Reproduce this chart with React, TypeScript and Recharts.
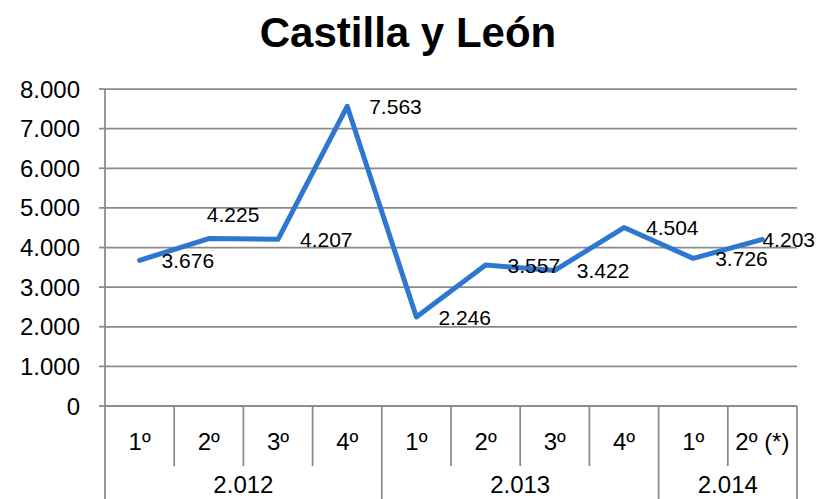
import React from 'react';
import { LineChart, Line, XAxis, YAxis, CartesianGrid, LabelList } from 'recharts';

const quarters = ['1º', '2º', '3º', '4º', '1º', '2º', '3º', '4º', '1º', '2º (*)'];
const years = ['2.012', '2.012', '2.012', '2.012', '2.013', '2.013', '2.013', '2.013', '2.014', '2.014'];
const values = [3676, 4225, 4207, 7563, 2246, 3557, 3422, 4504, 3726, 4203];
const yTicks = [0, 1000, 2000, 3000, 4000, 5000, 6000, 7000, 8000];
const title = 'Castilla y León';

const W = 816;
const H = 499;
const M = { top: 89, right: 19, bottom: 0, left: 0 };
const Y_W = 105;
const X_H = 93;
const PLOT_W = W - M.left - M.right - Y_W;
const BAND = PLOT_W / quarters.length;
const FONT = '"Liberation Sans", Arial, sans-serif';
const GRID = '#8a8a8a';
const LINE = '#2E77D0';

const data = quarters.map((q, i) => ({ quarter: q, year: years[i], value: values[i] }));

const fmt = (n: number) =>
  n >= 1000 ? `${Math.floor(n / 1000)}.${String(n % 1000).padStart(3, '0')}` : String(n);

const XTick = (props: any) => {
  const { x, y, index } = props;
  const half = BAND / 2;
  const left = x - half;
  const isYearStart = index === 0 || years[index] !== years[index - 1];
  const isLast = index === quarters.length - 1;
  let yearLabel = null;
  if (isYearStart) {
    let count = 0;
    for (let j = index; j < years.length && years[j] === years[index]; j++) count++;
    const cx = x + ((count - 1) / 2) * BAND;
    yearLabel = (
      <text x={cx} y={y + 78} textAnchor="middle" dominantBaseline="central" fontSize={24} fontFamily={FONT} fill="#000">
        {years[index]}
      </text>
    );
  }
  return (
    <g>
      <line x1={left} y1={y} x2={left} y2={isYearStart ? H : y + 60} stroke={GRID} strokeWidth={1.75} />
      {isLast && <line x1={x + half} y1={y} x2={x + half} y2={H} stroke={GRID} strokeWidth={1.75} />}
      <text x={x} y={y + 35} textAnchor="middle" dominantBaseline="central" fontSize={24} fontFamily={FONT} fill="#000">
        {quarters[index]}
      </text>
      {yearLabel}
    </g>
  );
};

const LABEL_W = 53;
const ValueLabel = (props: any) => {
  const { x, y, value, index } = props;
  let tx = x + 22;
  let ty = y;
  let anchor: 'start' | 'end' = 'start';
  if (index === 1) {
    tx = x - 2;
    ty = y - 24;
  } else if (tx + LABEL_W > W) {
    tx = W - 1;
    anchor = 'end';
  }
  return (
    <text x={tx} y={ty} textAnchor={anchor} dominantBaseline="central" fontSize={21} fontFamily={FONT} fill="#000">
      {fmt(value)}
    </text>
  );
};

export default function App() {
  return (
    <div style={{ position: 'relative', width: W, height: H }}>
      <style>{'body{margin:0}'}</style>
      <div
        style={{
          position: 'absolute',
          left: 0,
          top: 12,
          width: W,
          textAlign: 'center',
          fontFamily: FONT,
          fontWeight: 'bold',
          fontSize: 42,
          lineHeight: 1,
          color: '#000',
        }}
      >
        {title}
      </div>
      <LineChart width={W} height={H} data={data} margin={M}>
        <CartesianGrid vertical={false} stroke={GRID} strokeWidth={1.75} />
        <XAxis
          dataKey="quarter"
          height={X_H}
          interval={0}
          padding={{ left: BAND / 2, right: BAND / 2 }}
          axisLine={{ stroke: GRID, strokeWidth: 1.75 }}
          tickLine={false}
          tickSize={0}
          tickMargin={0}
          tick={<XTick />}
        />
        <YAxis
          width={Y_W}
          domain={[0, 8000]}
          ticks={yTicks}
          interval={0}
          tickFormatter={fmt}
          axisLine={{ stroke: GRID, strokeWidth: 1.75 }}
          tickLine={{ stroke: GRID, strokeWidth: 1.75 }}
          tickSize={6}
          tickMargin={19}
          tick={{ fontSize: 24, fontFamily: FONT, fill: '#000' }}
        />
        <Line
          type="linear"
          dataKey="value"
          stroke={LINE}
          strokeWidth={5}
          dot={false}
          strokeLinejoin="round"
          strokeLinecap="round"
          isAnimationActive={false}
        >
          <LabelList dataKey="value" content={<ValueLabel />} />
        </Line>
      </LineChart>
    </div>
  );
}
